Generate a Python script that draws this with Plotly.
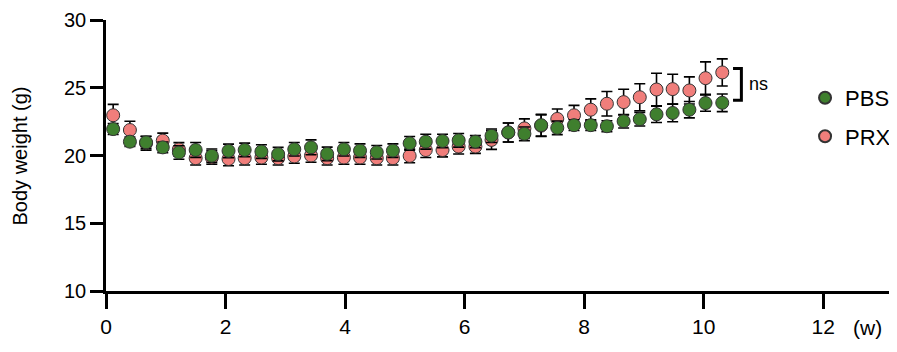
import plotly.graph_objects as go

# Time points (weeks)
weeks = [0.12, 0.40, 0.67, 0.95, 1.22, 1.50, 1.77, 2.05, 2.32, 2.60,
         2.88, 3.15, 3.43, 3.70, 3.98, 4.25, 4.53, 4.80, 5.08, 5.35,
         5.63, 5.90, 6.18, 6.45, 6.73, 7.00, 7.28, 7.55, 7.83, 8.11,
         8.38, 8.66, 8.93, 9.21, 9.48, 9.76, 10.03, 10.31]

pbs_mean = [21.95, 21.02, 20.97, 20.60, 20.22, 20.41, 19.98, 20.34, 20.41, 20.29,
            20.10, 20.46, 20.60, 20.12, 20.46, 20.36, 20.24, 20.36, 20.90, 21.02,
            21.07, 21.12, 21.02, 21.46, 21.70, 21.60, 22.24, 22.04, 22.24, 22.24,
            22.16, 22.53, 22.68, 23.04, 23.14, 23.38, 23.87, 23.89]
pbs_sem = [0.40, 0.35, 0.45, 0.40, 0.50, 0.55, 0.50, 0.50, 0.50, 0.50,
           0.50, 0.50, 0.55, 0.50, 0.50, 0.50, 0.50, 0.50, 0.50, 0.55,
           0.50, 0.50, 0.45, 0.50, 0.70, 0.50, 0.80, 0.50, 0.40, 0.40,
           0.40, 0.50, 0.50, 0.60, 0.65, 0.60, 0.60, 0.65]

prx_mean = [22.97, 21.88, 20.90, 21.10, 20.45, 19.80, 19.85, 19.74, 19.80, 19.85,
            19.80, 19.93, 20.00, 19.80, 19.85, 19.85, 19.80, 19.80, 19.97, 20.40,
            20.40, 20.66, 20.66, 21.15, 21.70, 22.00, 22.20, 22.70, 22.97, 23.38,
            23.82, 23.94, 24.30, 24.87, 24.90, 24.80, 25.71, 26.13]
prx_sem = [0.80, 0.65, 0.50, 0.55, 0.50, 0.50, 0.50, 0.50, 0.50, 0.50,
           0.50, 0.50, 0.50, 0.50, 0.50, 0.50, 0.50, 0.50, 0.50, 0.55,
           0.50, 0.55, 0.50, 0.70, 0.70, 0.70, 0.80, 0.73, 0.73, 0.80,
           0.90, 0.95, 1.00, 1.20, 1.10, 1.00, 1.20, 1.00]

x_ticks = [0, 2, 4, 6, 8, 10, 12]
y_ticks = [10, 15, 20, 25, 30]

FONT = "Liberation Sans, Arial, sans-serif"
GREEN = "#3f7f2e"
PINK = "#f07e7b"

fig = go.Figure()

fig.add_trace(go.Scatter(
    x=weeks, y=prx_mean, name="PRX", mode="markers",
    marker=dict(size=13, color=PINK, line=dict(color="#333333", width=1)),
    error_y=dict(type="data", array=prx_sem, visible=True, color="black",
                 thickness=1.6, width=5.5),
    legendrank=2, legendgroup="b", cliponaxis=False,
))
fig.add_trace(go.Scatter(
    x=weeks, y=pbs_mean, name="PBS", mode="markers",
    marker=dict(size=13, color=GREEN, line=dict(color="#333333", width=1)),
    error_y=dict(type="data", array=pbs_sem, visible=True, color="black",
                 thickness=1.6, width=5.5),
    legendrank=1, legendgroup="a", cliponaxis=False,
))

# significance bracket
fig.add_shape(type="path", xref="x", yref="y",
              path="M 10.49 26.42 L 10.63 26.42 L 10.63 24.07 L 10.49 24.07",
              line=dict(color="black", width=3))
fig.add_annotation(x=10.72, y=25.3, xref="x", yref="y", text="ns",
                   showarrow=False, xanchor="left", yanchor="middle",
                   font=dict(family=FONT, size=18, color="black"))
fig.add_annotation(x=12.74, y=-0.135, xref="x", yref="paper", text="(w)",
                   showarrow=False, xanchor="center", yanchor="middle",
                   font=dict(family=FONT, size=21, color="black"))
# y-axis title
fig.add_annotation(x=-0.109, y=0.5, xref="paper", yref="paper",
                   text="Body weight (g)", textangle=-90,
                   showarrow=False, xanchor="center", yanchor="middle",
                   font=dict(family=FONT, size=20, color="black"))

fig.update_layout(
    width=889, height=344,
    margin=dict(l=98, r=2, t=12, b=61, autoexpand=False),
    paper_bgcolor="white", plot_bgcolor="white",
    font=dict(family=FONT, size=20, color="black"),
    showlegend=True,
    legend=dict(x=0.886, y=0.79, xanchor="left", yanchor="top",
                font=dict(family=FONT, size=22), itemsizing="constant",
                tracegroupgap=7, bgcolor="rgba(0,0,0,0)"),
    xaxis=dict(range=[0, 13.2], tickvals=x_ticks, ticktext=[str(v) for v in x_ticks],
               showgrid=False, zeroline=False, showline=True, linecolor="black",
               linewidth=2.5, ticks="outside", ticklen=15, tickwidth=2.5,
               tickcolor="black", tickfont=dict(family=FONT, size=21),
               automargin=False, ticklabeloverflow="allow"),
    yaxis=dict(range=[10, 30], tickvals=y_ticks, ticktext=[str(v) for v in y_ticks],
               showgrid=False, zeroline=False, showline=True, linecolor="black",
               linewidth=2.5, ticks="outside", ticklen=13, tickwidth=2.5,
               tickcolor="black", tickfont=dict(family=FONT, size=20),
               automargin=False, ticklabeloverflow="allow"),
)

fig.write_html("out.html")
